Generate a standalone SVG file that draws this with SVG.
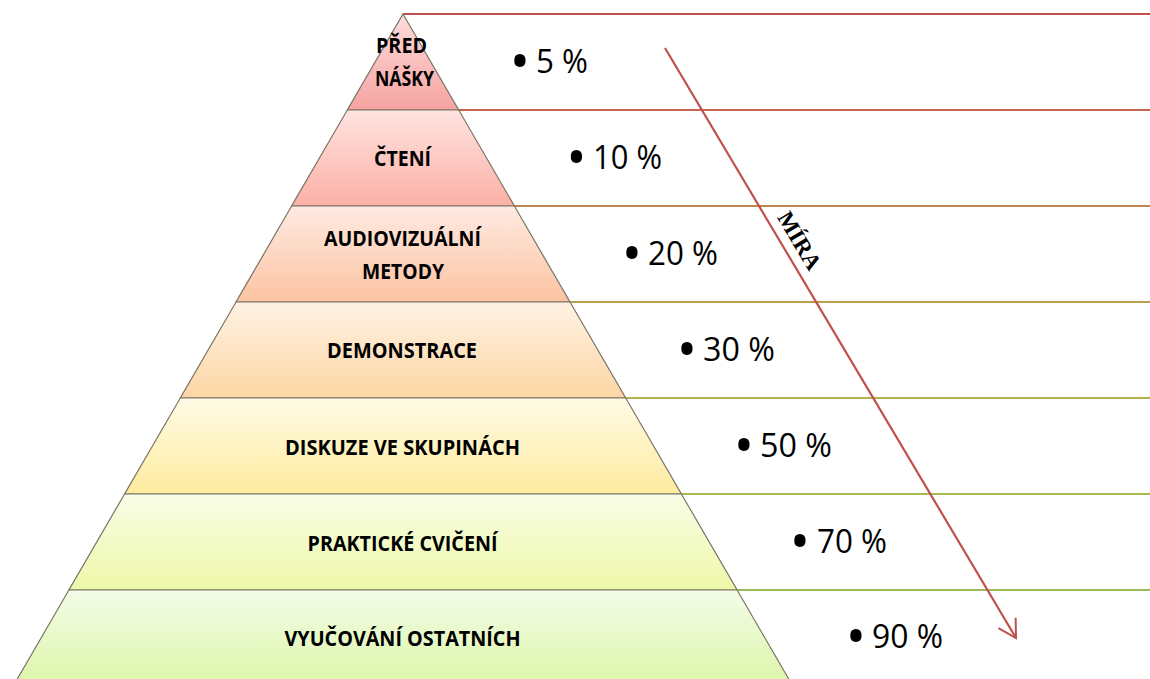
<svg xmlns="http://www.w3.org/2000/svg" width="1150" height="679" viewBox="0 0 1150 679">
<style>
.lay{stroke:#7a7466;stroke-width:1.2}
.lbl{font-family:"Open Sans","Liberation Sans",sans-serif;font-weight:bold;font-size:20.5px;fill:#000;text-anchor:middle}
.pct{font-family:"Open Sans","Liberation Sans",sans-serif;font-size:32px;fill:#000}
.bul{font-family:"Open Sans","Liberation Sans",sans-serif;font-size:54px;fill:#000;text-anchor:middle}
.hl{stroke-width:2;fill:none}
.mira{font-family:"Liberation Serif","Times New Roman",serif;font-weight:bold;font-size:23px;fill:#000;text-anchor:middle}
</style>
<defs>
<linearGradient id="g1" x1="0" y1="0" x2="0" y2="1"><stop offset="0" stop-color="#ffdcdc"/><stop offset="1" stop-color="#f5a3a0"/></linearGradient>
<linearGradient id="g2" x1="0" y1="0" x2="0" y2="1"><stop offset="0" stop-color="#ffe4e0"/><stop offset="1" stop-color="#fbb0a6"/></linearGradient>
<linearGradient id="g3" x1="0" y1="0" x2="0" y2="1"><stop offset="0" stop-color="#ffeae2"/><stop offset="1" stop-color="#fcc3a2"/></linearGradient>
<linearGradient id="g4" x1="0" y1="0" x2="0" y2="1"><stop offset="0" stop-color="#fff2e4"/><stop offset="1" stop-color="#fcd6a4"/></linearGradient>
<linearGradient id="g5" x1="0" y1="0" x2="0" y2="1"><stop offset="0" stop-color="#fffbe6"/><stop offset="1" stop-color="#fdeb9e"/></linearGradient>
<linearGradient id="g6" x1="0" y1="0" x2="0" y2="1"><stop offset="0" stop-color="#f8fde6"/><stop offset="1" stop-color="#eef8a8"/></linearGradient>
<linearGradient id="g7" x1="0" y1="0" x2="0" y2="1"><stop offset="0" stop-color="#f3fde8"/><stop offset="1" stop-color="#dcf5a8"/></linearGradient>
<marker id="ah" markerUnits="userSpaceOnUse" viewBox="-20 -12 22 24" refX="0" refY="0" markerWidth="22" markerHeight="24" orient="auto">
<path d="M -17.5 -10 L 0 0 L -17.5 10" fill="none" stroke="#c0504d" stroke-width="2"/>
</marker>
</defs>
<rect width="1150" height="679" fill="#fff"/>

<g id="connectors">
<line class="hl" x1="403" y1="14" x2="1150" y2="14" stroke="#c0504d"/>
<line class="hl" x1="458.7" y1="110" x2="1150" y2="110" stroke="#c3654f"/>
<line class="hl" x1="514.4" y1="206" x2="1150" y2="206" stroke="#c0844f"/>
<line class="hl" x1="570" y1="302" x2="1150" y2="302" stroke="#b99f4e"/>
<line class="hl" x1="625.7" y1="398" x2="1150" y2="398" stroke="#b4b050"/>
<line class="hl" x1="681.4" y1="494" x2="1150" y2="494" stroke="#a6ba52"/>
<line class="hl" x1="737.1" y1="590" x2="1150" y2="590" stroke="#9bbb59"/>
<line id="arrow" x1="665" y1="48" x2="1016" y2="638" stroke="#c0504d" stroke-width="2.2" marker-end="url(#ah)"/>
</g>

<g id="layer1">
<polygon class="lay" points="403,14 458.7,110 347.3,110" fill="url(#g1)"/>
<text class="lbl" x="401.5" y="53" textLength="51" lengthAdjust="spacingAndGlyphs">PŘED</text>
<text class="lbl" x="404.5" y="86" textLength="59" lengthAdjust="spacingAndGlyphs">NÁŠKY</text>
</g>
<g id="layer2">
<polygon class="lay" points="347.3,110 458.7,110 514.4,206 291.6,206" fill="url(#g2)"/>
<text class="lbl" x="402.5" y="166" textLength="57" lengthAdjust="spacingAndGlyphs">ČTENÍ</text>
</g>
<g id="layer3">
<polygon class="lay" points="291.6,206 514.4,206 570,302 236,302" fill="url(#g3)"/>
<text class="lbl" x="402.5" y="246" textLength="157" lengthAdjust="spacingAndGlyphs">AUDIOVIZUÁLNÍ</text>
<text class="lbl" x="403" y="279" textLength="82" lengthAdjust="spacingAndGlyphs">METODY</text>
</g>
<g id="layer4">
<polygon class="lay" points="236,302 570,302 625.7,398 180.3,398" fill="url(#g4)"/>
<text class="lbl" x="402" y="358" textLength="150" lengthAdjust="spacingAndGlyphs">DEMONSTRACE</text>
</g>
<g id="layer5">
<polygon class="lay" points="180.3,398 625.7,398 681.4,494 124.6,494" fill="url(#g5)"/>
<text class="lbl" x="402.5" y="455" textLength="235" lengthAdjust="spacingAndGlyphs">DISKUZE VE SKUPINÁCH</text>
</g>
<g id="layer6">
<polygon class="lay" points="124.6,494 681.4,494 737.1,590 68.9,590" fill="url(#g6)"/>
<text class="lbl" x="402.5" y="551" textLength="190" lengthAdjust="spacingAndGlyphs">PRAKTICKÉ CVIČENÍ</text>
</g>
<g id="layer7">
<polygon class="lay" points="68.9,590 737.1,590 792.8,686 13.2,686" fill="url(#g7)"/>
<text class="lbl" x="402.5" y="646" textLength="236" lengthAdjust="spacingAndGlyphs">VYUČOVÁNÍ OSTATNÍCH</text>
</g>

<g id="p5"><text class="bul" x="520" y="81">•</text><text class="pct" x="536" y="73" textLength="52" lengthAdjust="spacingAndGlyphs">5 %</text></g>
<g id="p10"><text class="bul" x="576.5" y="177">•</text><text class="pct" x="593" y="169" textLength="69" lengthAdjust="spacingAndGlyphs">10 %</text></g>
<g id="p20"><text class="bul" x="632" y="273">•</text><text class="pct" x="648" y="265" textLength="70" lengthAdjust="spacingAndGlyphs">20 %</text></g>
<g id="p30"><text class="bul" x="687" y="369">•</text><text class="pct" x="703" y="361" textLength="72" lengthAdjust="spacingAndGlyphs">30 %</text></g>
<g id="p50"><text class="bul" x="744" y="465">•</text><text class="pct" x="760" y="457" textLength="72" lengthAdjust="spacingAndGlyphs">50 %</text></g>
<g id="p70"><text class="bul" x="800" y="561">•</text><text class="pct" x="817" y="553" textLength="70" lengthAdjust="spacingAndGlyphs">70 %</text></g>
<g id="p90"><text class="bul" x="856" y="656">•</text><text class="pct" x="872" y="648" textLength="71" lengthAdjust="spacingAndGlyphs">90 %</text></g>

<g id="mira"><text class="mira" transform="translate(799,241) rotate(59.25)" x="0" y="7">MÍRA</text></g>
</svg>
